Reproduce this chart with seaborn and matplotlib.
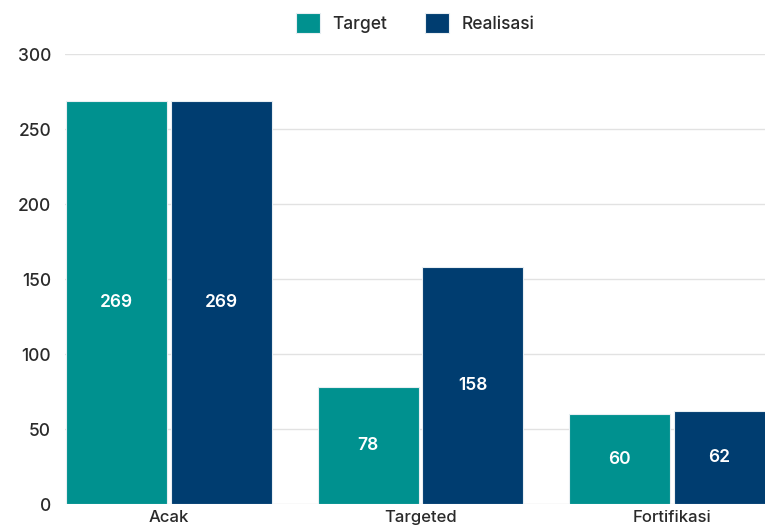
import matplotlib
matplotlib.use("Agg")
import matplotlib.pyplot as plt
import seaborn as sns
import pandas as pd

categories = ["Acak", "Targeted", "Fortifikasi"]
target = [269, 78, 60]
realisasi = [269, 158, 62]
series_names = ["Target", "Realisasi"]
yticks = [0, 50, 100, 150, 200, 250, 300]

df = pd.DataFrame({
    "cat": categories * 2,
    "val": target + realisasi,
    "series": [series_names[0]] * 3 + [series_names[1]] * 3,
})

sns.set_theme(style="white")
plt.rcParams["font.family"] = ["Inter", "DejaVu Sans"]

fig = plt.figure(figsize=(7.65, 5.31), dpi=100)
ax = fig.add_axes([0.085, 0.0508, 0.915, 0.8475])

colors = ["#00918F", "#003D70"]
sns.barplot(data=df, x="cat", y="val", hue="series", palette=colors,
            width=0.83, gap=0.03, ax=ax, edgecolor="#e8eef2", linewidth=0.8,
            saturation=1)

ax.set_ylim(0, 300)
ax.set_xlim(-0.4135, 2.37)
ax.set_yticks(yticks)
ax.set_yticklabels([str(v) for v in yticks], fontsize=12.5, color="#2a2a2a",
                   fontweight="medium")
ax.grid(axis="y", color="#e2e2e2", linewidth=1)
ax.set_axisbelow(True)
for s in ax.spines.values():
    s.set_visible(False)
ax.tick_params(axis="both", length=0)
ax.tick_params(axis="y", pad=10)
ax.tick_params(axis="x", pad=4)
ax.set_xlabel("")
ax.set_ylabel("")
for lbl in ax.get_xticklabels():
    lbl.set_fontsize(12)
    lbl.set_color("#2a2a2a")
    lbl.set_fontweight("medium")

for cont in ax.containers:
    ax.bar_label(cont, label_type="center", color="white", fontsize=12.5,
                 fontweight="semibold")

handles, labels = ax.get_legend_handles_labels()
leg = ax.legend(handles, labels, loc="upper center", bbox_to_anchor=(0.5, 1.125),
                ncol=2, frameon=False, fontsize=12.5, handlelength=1.4,
                handleheight=1.4, columnspacing=2.2, handletextpad=0.7,
                labelcolor="#2a2a2a")
for t in leg.get_texts():
    t.set_fontweight("medium")

fig.savefig("out.png", dpi=100)
